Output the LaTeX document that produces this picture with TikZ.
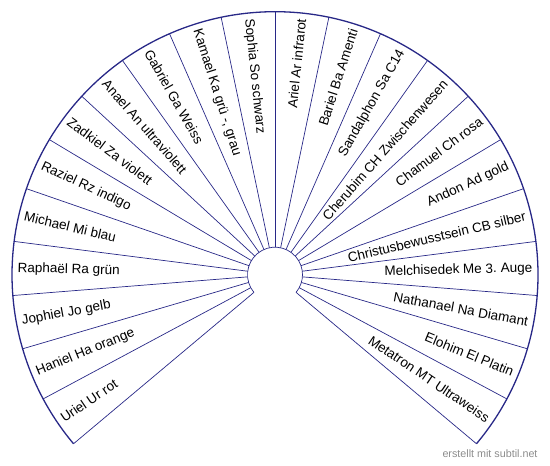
\documentclass[tikz,border=0pt]{standalone}
\usepackage{fontspec}
\setmainfont{Liberation Sans}
\usetikzlibrary{calc}
\definecolor{fanblue}{RGB}{40,40,135}
\definecolor{credgray}{RGB}{140,140,140}
\frenchspacing

\begin{document}
\begin{tikzpicture}[x=1pt,y=1pt,
    spoke/.style={fanblue, line width=0.7pt},
    rim/.style={fanblue, line width=1.3pt},
    lbl/.style={inner sep=0pt, font=\fontsize{13.5}{16}\selectfont},
    credit/.style={inner sep=0pt, text=credgray, font=\fontsize{10.75}{12}\selectfont}]
    \useasboundingbox (-275,-191.3) rectangle (275,274.7);
    \coordinate (c) at (0,0);
    % spokes and rims
    \foreach \k in {0,...,22}
        \draw[spoke] ({-40+\k*260/22}:27.5) -- ({-40+\k*260/22}:263);
    \draw[rim] (-40:263) arc[start angle=-40, end angle=220, radius=263];
    \draw[spoke] (220:27.5) arc[start angle=220, end angle=-40, radius=27.5];
    % labels, counter-clockwise from bottom right
    \foreach \txt [count=\k from 0] in {Metatron MT Ultraweiss, Elohim El Platin,
        Nathanael Na Diamant, Melchisedek Me 3. Auge, Christusbewusstsein CB silber,
        Andon Ad gold, Chamuel Ch rosa, Cherubim CH Zwischenwesen, Sandalphon Sa C14,
        Bariel Ba Amenti, Ariel Ar infrarot, Sophia So schwarz, {Kamael Ka grü -, grau},
        Gabriel Ga Weiss, Anael An ultraviolett, Zadkiel Za violett, Raziel Rz indigo,
        Michael Mi blau, Raphaël Ra grün, Jophiel Jo gelb, Haniel Ha orange, Uriel Ur rot}{
        \pgfmathsetmacro\mid{-40+(\k+0.5)*260/22}
        \pgfmathsetmacro\rot{\mid-180}
        \ifnum\k<11
            \node[lbl, anchor=east, rotate=\mid] (n\k) at (\mid:257.5) {\txt};
        \else
            \node[lbl, anchor=west, rotate=\rot] (n\k) at (\mid:257.5) {\txt};
        \fi
    }
    \node[credit] (credit) at (215,-178.8) {erstellt mit subtil.net};
\end{tikzpicture}
\end{document}
